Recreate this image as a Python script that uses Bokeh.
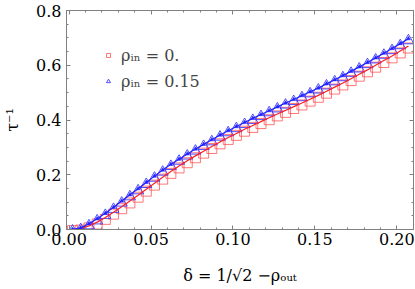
from bokeh.plotting import figure
from bokeh.models import (Range1d, LinearAxis, SingleIntervalTicker, NumeralTickFormatter,
                          Legend, LegendItem)
from bokeh.embed import file_html
from bokeh.resources import INLINE

# delta = 1/sqrt(2) - rho_out
delta = [0.0021, 0.0071, 0.0121, 0.0171, 0.0221, 0.0271, 0.0321, 0.0371, 0.0421, 0.0471,
         0.0521, 0.0571, 0.0621, 0.0671, 0.0721, 0.0771, 0.0821, 0.0871, 0.0921, 0.0971,
         0.1021, 0.1071, 0.1121, 0.1171, 0.1221, 0.1271, 0.1321, 0.1371, 0.1421, 0.1471,
         0.1521, 0.1571, 0.1621, 0.1671, 0.1721, 0.1771, 0.1821, 0.1871, 0.1921, 0.1971,
         0.2021, 0.2071]

# theory curves (lines)
line_rho0 = [0.000, 0.004, 0.013, 0.027, 0.044, 0.063, 0.083, 0.104, 0.125, 0.147,
             0.169, 0.191, 0.212, 0.232, 0.251, 0.269, 0.286, 0.303, 0.320, 0.336,
             0.351, 0.366, 0.380, 0.394, 0.408, 0.422, 0.435, 0.449, 0.462, 0.476,
             0.490, 0.505, 0.520, 0.535, 0.551, 0.567, 0.583, 0.600, 0.617, 0.634,
             0.652, 0.670]
line_rho015 = [0.001, 0.006, 0.021, 0.039, 0.059, 0.081, 0.104, 0.127, 0.149, 0.172,
               0.195, 0.217, 0.238, 0.257, 0.276, 0.294, 0.311, 0.328, 0.345, 0.361,
               0.376, 0.391, 0.406, 0.420, 0.434, 0.448, 0.462, 0.475, 0.489, 0.503,
               0.517, 0.532, 0.547, 0.562, 0.578, 0.594, 0.610, 0.627, 0.644, 0.661,
               0.679, 0.697]

# simulation points (markers)
pts_rho0 = [-0.004, -0.002, 0.006, 0.020, 0.037, 0.056, 0.076, 0.097, 0.118, 0.140,
            0.162, 0.184, 0.205, 0.225, 0.244, 0.262, 0.279, 0.296, 0.313, 0.329,
            0.344, 0.359, 0.373, 0.387, 0.401, 0.415, 0.428, 0.442, 0.455, 0.469,
            0.483, 0.498, 0.513, 0.528, 0.544, 0.560, 0.576, 0.593, 0.610, 0.627,
            0.645, 0.663]
pts_rho015 = [-0.005, 0.000, 0.014, 0.032, 0.052, 0.074, 0.097, 0.120, 0.142, 0.165,
              0.188, 0.210, 0.231, 0.250, 0.269, 0.287, 0.304, 0.321, 0.338, 0.354,
              0.369, 0.384, 0.399, 0.413, 0.427, 0.441, 0.455, 0.468, 0.482, 0.496,
              0.510, 0.525, 0.540, 0.555, 0.571, 0.587, 0.603, 0.620, 0.637, 0.654,
              0.672, 0.690]

legend_labels = ["ρᵢₙ = 0.", "ρᵢₙ = 0.15"]
x_label = "δ = 1/√2 −ρₒᵤₜ"
y_label = "τ⁻¹"

FONT = "DejaVu Serif"
GRAY = "#808080"

p = figure(width=415, height=289, x_range=Range1d(-0.0016, 0.2102), y_range=Range1d(0, 0.8),
           output_backend="svg", toolbar_location=None,
           min_border_left=60, min_border_right=2, min_border_top=10, min_border_bottom=60)
p.background_fill_color = "white"
p.border_fill_color = "white"
p.outline_line_color = GRAY
p.xgrid.visible = False
p.ygrid.visible = False


def style(ax, labels=True):
    ax.axis_line_color = GRAY
    ax.major_tick_line_color = GRAY
    ax.minor_tick_line_color = GRAY
    ax.major_tick_in = 4
    ax.major_tick_out = 0
    ax.minor_tick_in = 2
    ax.minor_tick_out = 0
    if labels:
        ax.major_label_text_font = FONT
        ax.major_label_text_font_size = "16px"
        ax.major_label_text_color = "black"
        ax.axis_label_text_font = FONT
        ax.axis_label_text_font_size = "16px"
        ax.axis_label_text_font_style = "normal"
        ax.axis_label_text_color = "black"
    else:
        ax.major_label_text_color = None
        ax.major_label_text_font_size = "1px"
        ax.major_label_standoff = 0


p.xaxis.ticker = SingleIntervalTicker(interval=0.05, num_minor_ticks=5)
p.yaxis.ticker = SingleIntervalTicker(interval=0.2, num_minor_ticks=4)
p.xaxis.formatter = NumeralTickFormatter(format="0.00")
p.yaxis.formatter = NumeralTickFormatter(format="0.0")
style(p.xaxis[0])
style(p.yaxis[0])
p.xaxis.major_label_standoff = 3
p.yaxis.major_label_standoff = 5
p.xaxis.axis_label = x_label
p.xaxis.axis_label_standoff = 18
p.yaxis.axis_label = y_label
p.yaxis.axis_label_standoff = 11

top = LinearAxis(ticker=SingleIntervalTicker(interval=0.05, num_minor_ticks=5))
right = LinearAxis(ticker=SingleIntervalTicker(interval=0.2, num_minor_ticks=4))
style(top, False)
style(right, False)
p.add_layout(top, "above")
p.add_layout(right, "right")

r_sq = p.scatter(delta, pts_rho0, marker="square", size=10, fill_color=None,
                 line_color="#FF4040", line_alpha=0.7, line_width=1)
r_tr = p.scatter(delta, pts_rho015, marker="triangle", size=11, fill_color=None,
                 line_color="#3030FF", line_alpha=0.85, line_width=1)
p.line(delta, line_rho0, line_color="#FF2020", line_width=1.2)
p.line(delta, line_rho015, line_color="#2020FF", line_width=1.2)
p.scatter(delta, line_rho015, marker="triangle", size=4, fill_color="#2020FF",
          line_color="#2020FF", line_width=0.5)

legend = Legend(items=[LegendItem(label=legend_labels[0], renderers=[r_sq]),
                       LegendItem(label=legend_labels[1], renderers=[r_tr])],
                location=(37, 138))
legend.background_fill_alpha = 0
legend.border_line_alpha = 0
legend.margin = 0
legend.padding = 0
legend.spacing = 6
legend.glyph_width = 10
legend.glyph_height = 20
legend.label_height = 20
legend.label_standoff = 8
legend.label_text_font = FONT
legend.label_text_font_size = "16px"
p.add_layout(legend, "center")

open("out.html", "w").write(file_html(p, INLINE))
